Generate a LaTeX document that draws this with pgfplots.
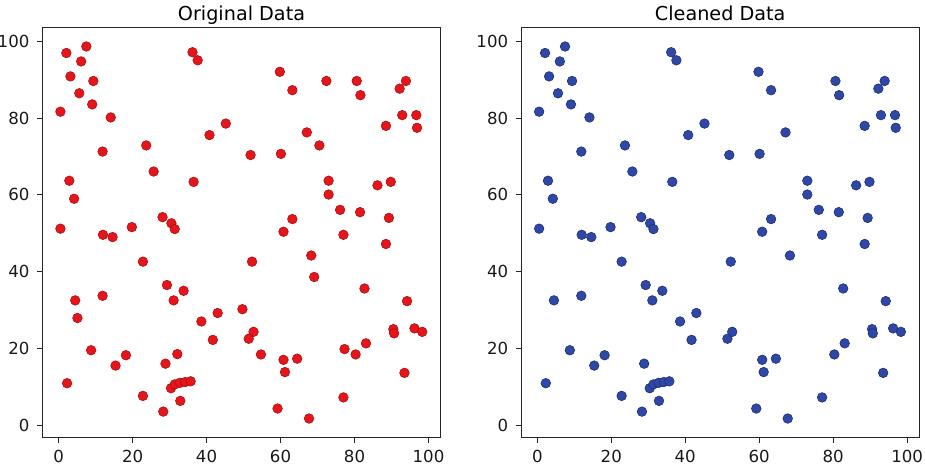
\documentclass[border=0pt]{standalone}
\usepackage{pgfplots}
\pgfplotsset{compat=1.18}
\usepackage{pgfplotstable}
\usepackage{fontspec}
\setmainfont{DejaVu Sans}
\definecolor{redpt}{RGB}{228,22,28}
\definecolor{redpte}{RGB}{170,15,20}
\definecolor{bluept}{RGB}{48,72,165}
\definecolor{bluepte}{RGB}{30,45,120}

\pgfplotstableread{
x y
2.1 97.0
7.5 98.7
6.1 94.8
3.2 90.9
9.4 89.7
5.6 86.5
9.1 83.6
0.5 81.7
14.1 80.2
36.2 97.2
37.6 95.1
45.2 78.6
40.8 75.6
11.9 71.3
23.7 72.9
25.7 66.1
36.5 63.4
2.9 63.7
4.2 59.0
0.5 51.2
12.0 49.6
14.6 49.0
19.8 51.6
28.1 54.2
30.5 52.6
31.4 51.1
59.8 92.1
63.2 87.3
80.6 89.7
81.6 86.0
93.9 89.7
92.2 87.7
92.9 80.8
96.7 80.8
96.9 77.5
88.5 78.0
67.1 76.3
51.9 70.4
60.1 70.7
73.0 63.7
73.0 60.1
86.2 62.5
89.8 63.4
76.1 56.1
81.5 55.5
89.3 54.0
63.2 53.7
60.8 50.4
77.0 49.6
88.5 47.2
22.8 42.6
29.3 36.5
33.8 35.0
31.1 32.5
4.5 32.5
11.9 33.7
38.6 27.0
43.0 29.2
41.7 22.2
8.8 19.5
18.2 18.2
15.4 15.5
28.9 16.0
2.3 10.9
30.4 9.6
31.4 10.6
32.8 11.0
34.2 11.2
35.7 11.4
22.8 7.6
32.9 6.3
28.3 3.5
52.3 42.6
68.3 44.2
82.7 35.6
94.2 32.3
52.7 24.3
51.4 22.5
90.5 25.0
90.7 23.9
96.2 25.2
98.3 24.3
60.8 17.0
64.5 17.3
61.2 13.8
80.3 18.4
83.1 21.3
93.5 13.6
77.0 7.2
59.2 4.3
67.7 1.7
}\cleaned

\pgfplotstableread{
x y
72.4 89.7
70.5 72.9
5.1 27.9
32.1 18.5
69.1 38.6
49.7 30.2
54.7 18.4
77.3 19.8
}\outliers

\pgfplotsset{
  panel/.style={
    scale only axis,
    width=199.2pt, height=205pt,
    xmin=-4.4, xmax=103.3, ymin=-3.2, ymax=103.7,
    xtick={0,20,40,60,80,100}, ytick={0,20,40,60,80,100},
    tick align=outside, tick pos=left,
    major tick length=2.6pt,
    axis line style={black!85, line width=0.5pt},
    every tick/.style={black!85, line width=0.45pt},
    tick label style={font=\fontsize{8.3}{9}\selectfont, black!90},
    /pgf/number format/assume math mode=true,
    xticklabel style={yshift=-0.3pt},
    yticklabel style={xshift=-0.3pt},
    title style={font=\fontsize{9.6}{11}\selectfont, at={(0.5,1)}, anchor=base, yshift=-2.7pt},
    clip=false,
  },
}

\begin{document}
\begin{tikzpicture}
\path[use as bounding box] (0,0) rectangle (462.5pt,233.5pt);
\begin{axis}[panel, at={(21.15pt,14.85pt)}, anchor=south west, title={Original Data}]
\addplot[only marks, mark=*, mark size=2.4pt, mark options={fill=redpt, draw=redpte, line width=0.3pt}] table {\cleaned};
\addplot[only marks, mark=*, mark size=2.4pt, mark options={fill=redpt, draw=redpte, line width=0.3pt}] table {\outliers};
\end{axis}
\begin{axis}[panel, at={(260.5pt,14.85pt)}, anchor=south west, title={Cleaned Data}]
\addplot[only marks, mark=*, mark size=2.4pt, mark options={fill=bluept, draw=bluepte, line width=0.3pt}] table {\cleaned};
\end{axis}
\end{tikzpicture}
\end{document}
